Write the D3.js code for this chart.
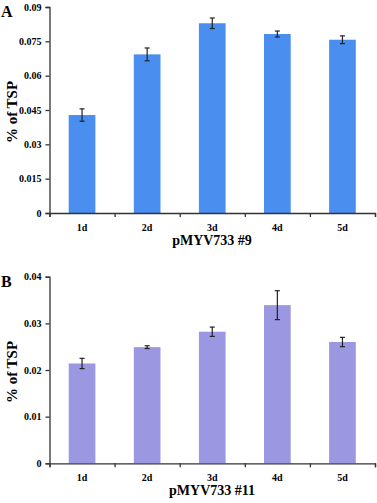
<!DOCTYPE html>
<html>
<head>
<meta charset="utf-8">
<script src="https://cdn.jsdelivr.net/npm/d3@7"></script>
<style>
body { margin: 0; background: #fff; }
svg { display: block; }
text { font-family: "Liberation Serif", "Times New Roman", serif; font-weight: bold; }
</style>
</head>
<body>
<svg width="377" height="503"></svg>
<script>
// data
var days = ["1d", "2d", "3d", "4d", "5d"];

var valuesA = [0.0428, 0.0693, 0.0829, 0.0782, 0.0757];
var errorsA = [0.0027, 0.0028, 0.0023, 0.0013, 0.0017];
var ticksA = [0, 0.015, 0.03, 0.045, 0.06, 0.075, 0.09];

var valuesB = [0.0214, 0.0249, 0.0282, 0.0339, 0.0260];
var errorsB = [0.0011, 0.0003, 0.0010, 0.0031, 0.0010];
var ticksB = [0, 0.01, 0.02, 0.03, 0.04];

var svg = d3.select("svg");

function panel(opt) {
    var left = 49.5, right = 375;
    var g = svg.append("g");

    var xs = d3.scaleBand().domain(days).range([left, right]).paddingInner(0.59).paddingOuter(0.295);
    var xb = d3.scaleLinear().domain([0, days.length]).range([left, right]);
    var ys = d3.scaleLinear().domain([0, opt.max]).range([opt.bottom, opt.top]);

    // bars
    g.selectAll(".bar")
        .data(opt.values)
        .enter()
        .append("rect")
        .attr("x", function(d, i) { return xs(days[i]); })
        .attr("y", function(d) { return ys(d); })
        .attr("width", xs.bandwidth())
        .attr("height", function(d) { return ys(0) - ys(d); })
        .attr("fill", opt.color);

    // error bars
    var eb = g.selectAll(".err")
        .data(opt.values)
        .enter()
        .append("g")
        .attr("stroke", "#222")
        .attr("stroke-width", 1.2);
    eb.append("line")
        .attr("x1", function(d, i) { return xs(days[i]) + xs.bandwidth() / 2; })
        .attr("x2", function(d, i) { return xs(days[i]) + xs.bandwidth() / 2; })
        .attr("y1", function(d, i) { return ys(d + opt.errors[i]); })
        .attr("y2", function(d, i) { return ys(d - opt.errors[i]); });
    [1, -1].forEach(function(s) {
        eb.append("line")
            .attr("x1", function(d, i) { return xs(days[i]) + xs.bandwidth() / 2 - 2.5; })
            .attr("x2", function(d, i) { return xs(days[i]) + xs.bandwidth() / 2 + 2.5; })
            .attr("y1", function(d, i) { return ys(d + s * opt.errors[i]); })
            .attr("y2", function(d, i) { return ys(d + s * opt.errors[i]); });
    });

    // y axis
    var ya = g.append("g")
        .attr("transform", "translate(" + left + ",0)")
        .call(d3.axisLeft(ys).tickValues(opt.ticks).tickSize(4).tickPadding(4).tickFormat(function(d) { return d === 0 ? "0" : String(+d.toFixed(3)); }));
    ya.selectAll("text").attr("font-size", 10).attr("fill", "#000");
    ya.selectAll("path, line").attr("stroke", "#333").attr("stroke-width", 1.3);

    // x axis: boundary ticks
    var xa = g.append("g")
        .attr("transform", "translate(0," + ys(0) + ")")
        .call(d3.axisBottom(xb).ticks(days.length).tickSize(4).tickSizeOuter(4).tickFormat(""));
    xa.selectAll("path, line").attr("stroke", "#333").attr("stroke-width", 1.3);

    // category labels
    var xl = g.append("g")
        .attr("transform", "translate(0," + ys(0) + ")")
        .call(d3.axisBottom(xs).tickSize(0).tickPadding(11));
    xl.select(".domain").remove();
    xl.selectAll("text").attr("font-size", 10).attr("fill", "#000");

    // titles
    g.append("text")
        .attr("x", 212)
        .attr("y", opt.bottom + 32)
        .attr("text-anchor", "middle")
        .attr("font-size", 14)
        .text(opt.xtitle);

    g.append("text")
        .attr("transform", "translate(17," + ((opt.top + opt.bottom) / 2 + 2) + ") rotate(-90)")
        .attr("text-anchor", "middle")
        .attr("font-size", 15)
        .text("% of TSP");

    g.append("text")
        .attr("x", 1)
        .attr("y", opt.top + 10)
        .attr("font-size", 16)
        .text(opt.label);
}

panel({ values: valuesA, errors: errorsA, ticks: ticksA, max: 0.09, top: 7, bottom: 213,
        color: "#4a8ef0", xtitle: "pMYV733 #9", label: "A" });
panel({ values: valuesB, errors: errorsB, ticks: ticksB, max: 0.04, top: 276.7, bottom: 463.3,
        color: "#9b97e0", xtitle: "pMYV733 #11", label: "B" });
</script>
</body>
</html>
